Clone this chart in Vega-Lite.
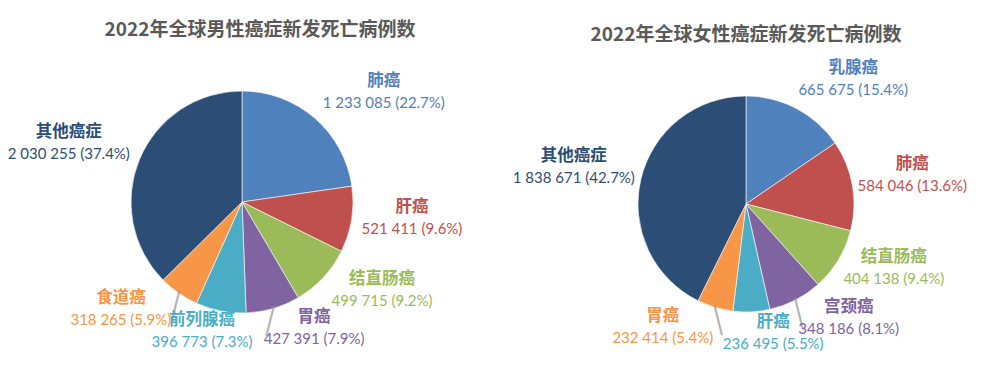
{
  "$schema": "https://vega.github.io/schema/vega-lite/v6.json",
  "padding": {"top": 21, "left": 0, "right": 0, "bottom": 0},
  "background": "white",
  "spacing": 20,
  "bounds": "flush",
  "config": {"view": {"stroke": null}},
  "resolve": {"scale": {"color": "independent", "theta": "independent"}},
  "datasets": {
    "men": [
      {"name": "肺癌", "value": 1233085, "label": "1 233 085 (22.7%)", "order": 1},
      {"name": "肝癌", "value": 521411, "label": "521 411 (9.6%)", "order": 2},
      {"name": "结直肠癌", "value": 499715, "label": "499 715 (9.2%)", "order": 3},
      {"name": "胃癌", "value": 427391, "label": "427 391 (7.9%)", "order": 4},
      {"name": "前列腺癌", "value": 396773, "label": "396 773 (7.3%)", "order": 5},
      {"name": "食道癌", "value": 318265, "label": "318 265 (5.9%)", "order": 6},
      {"name": "其他癌症", "value": 2030255, "label": "2 030 255 (37.4%)", "order": 7}
    ],
    "women": [
      {"name": "乳腺癌", "value": 665675, "label": "665 675 (15.4%)", "order": 1},
      {"name": "肺癌", "value": 584046, "label": "584 046 (13.6%)", "order": 2},
      {"name": "结直肠癌", "value": 404138, "label": "404 138 (9.4%)", "order": 3},
      {"name": "宫颈癌", "value": 348186, "label": "348 186 (8.1%)", "order": 4},
      {"name": "肝癌", "value": 236495, "label": "236 495 (5.5%)", "order": 5},
      {"name": "胃癌", "value": 232414, "label": "232 414 (5.4%)", "order": 6},
      {"name": "其他癌症", "value": 1838671, "label": "1 838 671 (42.7%)", "order": 7}
    ]
  },
  "hconcat": [
    {
      "width": 484,
      "height": 304,
      "title": {"text": "2022年全球男性癌症新发死亡病例数", "font": "Noto Sans CJK SC", "fontSize": 19, "fontWeight": "bold", "color": "#595959", "dx": 18, "offset": 10},
      "data": {"name": "men"},
      "transform": [{"joinaggregate": [{"op": "sum", "field": "value", "as": "total"}]}],
      "encoding": {
        "theta": {"field": "value", "type": "quantitative", "stack": true},
        "order": {"field": "order", "type": "quantitative"},
        "color": {"field": "name", "type": "nominal", "legend": null,
          "scale": {"domain": ["肺癌", "肝癌", "结直肠癌", "胃癌", "前列腺癌", "食道癌", "其他癌症"],
                    "range": ["#4F81BD", "#C0504D", "#9BBB59", "#8064A2", "#4BACC6", "#F79646", "#2C4D75"]}}
      },
      "layer": [
        {"mark": {"type": "arc", "outerRadius": 111, "stroke": "#ffffff", "strokeWidth": 0.6}},
        {"mark": {"type": "text", "text": "│", "radius": 111, "dy": 14, "angle": 14, "font": "DejaVu Sans", "fontSize": 26, "baseline": "middle",
                  "opacity": {"expr": "(datum.name == '食道癌' || datum.name == '胃癌') ? 0.75 : 0"}},
         "encoding": {"color": {"value": "#9A9A9A"}}},
        {"mark": {"type": "text", "radius": 117, "font": "Noto Sans CJK SC", "fontSize": 16.5, "fontWeight": "bold",
                  "dx": {"expr": "(3.6*length(datum.label)+4)*(sin(PI*(datum.value_start+datum.value_end)/datum.total) < 0 ? -1 : 1)*clamp(4.5*(abs(sin(PI*(datum.value_start+datum.value_end)/datum.total))-0.12),0,1)"},
                  "dy": {"expr": "-21*cos(PI*(datum.value_start+datum.value_end)/datum.total)-17"}},
         "encoding": {"text": {"field": "name"}}},
        {"mark": {"type": "text", "radius": 117, "font": "Lato", "fontSize": 15,
                  "dx": {"expr": "(3.6*length(datum.label)+4)*(sin(PI*(datum.value_start+datum.value_end)/datum.total) < 0 ? -1 : 1)*clamp(4.5*(abs(sin(PI*(datum.value_start+datum.value_end)/datum.total))-0.12),0,1)"},
                  "dy": {"expr": "-21*cos(PI*(datum.value_start+datum.value_end)/datum.total)+5"}},
         "encoding": {"text": {"field": "label"}}}
      ]
    },
    {
      "width": 484,
      "height": 308,
      "title": {"text": "2022年全球女性癌症新发死亡病例数", "font": "Noto Sans CJK SC", "fontSize": 19, "fontWeight": "bold", "color": "#595959", "offset": 5},
      "data": {"name": "women"},
      "transform": [{"joinaggregate": [{"op": "sum", "field": "value", "as": "total"}]}],
      "encoding": {
        "theta": {"field": "value", "type": "quantitative", "stack": true},
        "order": {"field": "order", "type": "quantitative"},
        "color": {"field": "name", "type": "nominal", "legend": null,
          "scale": {"domain": ["乳腺癌", "肺癌", "结直肠癌", "宫颈癌", "肝癌", "胃癌", "其他癌症"],
                    "range": ["#4F81BD", "#C0504D", "#9BBB59", "#8064A2", "#4BACC6", "#F79646", "#2C4D75"]}}
      },
      "layer": [
        {"mark": {"type": "arc", "outerRadius": 108, "stroke": "#ffffff", "strokeWidth": 0.6}},
        {"mark": {"type": "text", "text": "│", "radius": 108, "dy": 14, "angle": -14, "font": "DejaVu Sans", "fontSize": 26, "baseline": "middle",
                  "opacity": {"expr": "(datum.name == '宫颈癌' || datum.name == '胃癌') ? 0.75 : 0"}},
         "encoding": {"color": {"value": "#9A9A9A"}}},
        {"mark": {"type": "text", "radius": 114, "font": "Noto Sans CJK SC", "fontSize": 16.5, "fontWeight": "bold",
                  "dx": {"expr": "3.6*length(datum.label)*(sin(PI*(datum.value_start+datum.value_end)/datum.total) < 0 ? -1 : 1)*min(1, 2.5*abs(sin(PI*(datum.value_start+datum.value_end)/datum.total))+0.3)"},
                  "dy": {"expr": "-21*cos(PI*(datum.value_start+datum.value_end)/datum.total)-17"}},
         "encoding": {"text": {"field": "name"}}},
        {"mark": {"type": "text", "radius": 114, "font": "Lato", "fontSize": 15,
                  "dx": {"expr": "3.6*length(datum.label)*(sin(PI*(datum.value_start+datum.value_end)/datum.total) < 0 ? -1 : 1)*min(1, 2.5*abs(sin(PI*(datum.value_start+datum.value_end)/datum.total))+0.3)"},
                  "dy": {"expr": "-21*cos(PI*(datum.value_start+datum.value_end)/datum.total)+5"}},
         "encoding": {"text": {"field": "label"}}}
      ]
    }
  ]
}
